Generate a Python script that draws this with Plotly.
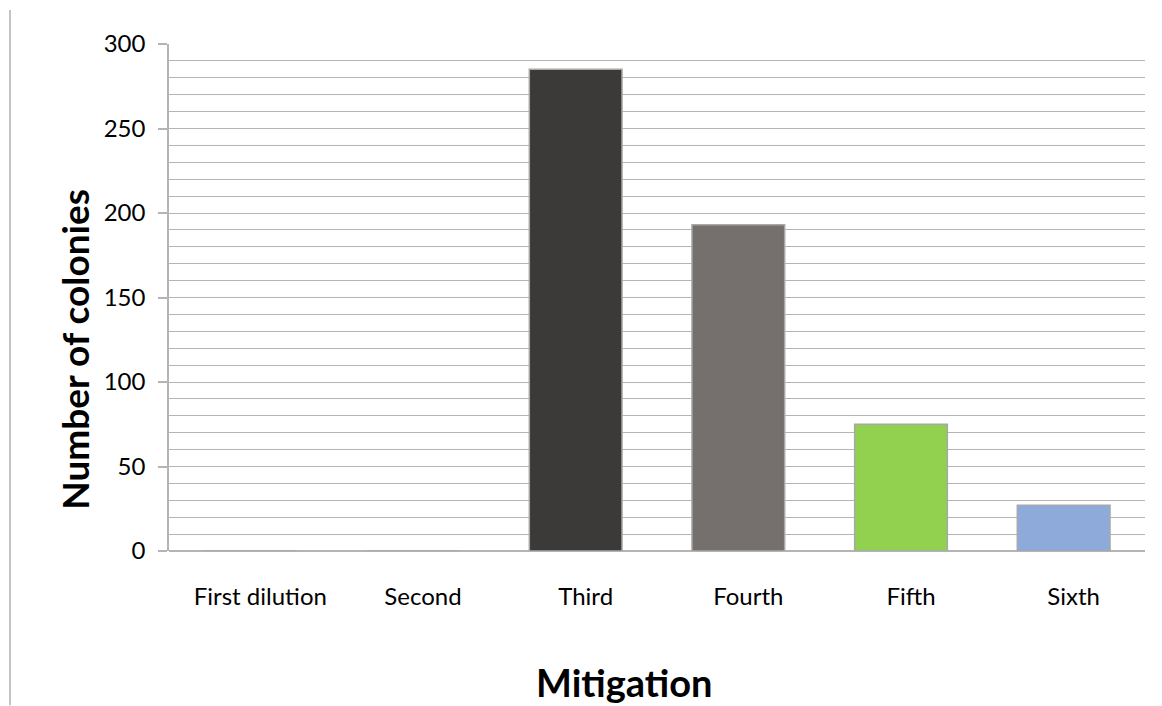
import plotly.graph_objects as go

categories = ["First dilution", "Second", "Third", "Fourth", "Fifth", "Sixth"]
colonies = [0, 0, 285, 193, 75, 27]
bar_colors = ["#3b3a38", "#3b3a38", "#3b3a38", "#75706e", "#92d050", "#8eaadb"]
y_ticks = [0, 50, 100, 150, 200, 250, 300]

GRID = "#b4b4b4"
FONT = "Lato"

fig = go.Figure(go.Bar(
    x=categories, y=colonies,
    marker=dict(color=bar_colors, line=dict(color="#a8a8a8", width=1.5)),
    width=0.57,
))

fig.update_layout(
    width=1162, height=706,
    margin=dict(l=169, r=17, t=44, b=154.5),
    paper_bgcolor="white", plot_bgcolor="white",
    showlegend=False,
    font=dict(family=FONT, color="black"),
    xaxis=dict(
        showgrid=False, showline=False, zeroline=False,
        ticks="", tickfont=dict(size=24, family=FONT, color="black"),
        ticklabelstandoff=29, ticklabelshift=10,
    ),
    yaxis=dict(
        range=[0, 300], tickvals=y_ticks,
        showgrid=True, gridcolor=GRID, gridwidth=1.3,
        showline=True, linecolor=GRID, linewidth=1.5,
        zeroline=True, zerolinecolor=GRID, zerolinewidth=1.5,
        ticks="outside", ticklen=9, tickcolor=GRID, tickwidth=1.5,
        tickfont=dict(size=24, family=FONT, color="black"),
        ticklabelstandoff=8,
        minor=dict(dtick=10, showgrid=True, gridcolor=GRID, gridwidth=1.3, ticks=""),
    ),
    annotations=[
        dict(text="<b>Number of colonies</b>", xref="paper", yref="paper",
             x=-94 / 976, y=(551.5 - 350) / 507.5, textangle=-90, showarrow=False,
             xanchor="center", yanchor="middle", font=dict(size=37, family=FONT, color="black")),
        dict(text="<b>Mitigation</b>", xref="paper", yref="paper",
             x=(624 - 169) / 976, y=(551.5 - 683) / 507.5, showarrow=False,
             xanchor="center", yanchor="middle", font=dict(size=38, family=FONT, color="black")),
    ],
    shapes=[
        dict(type="line", xref="paper", yref="paper",
             x0=(10 - 169) / 976, x1=(10 - 169) / 976,
             y0=(551.5 - 10) / 507.5, y1=(551.5 - 706) / 507.5,
             line=dict(color="#b0b0b0", width=1.5)),
    ],
)

fig.write_html("out.html", config={"displayModeBar": False},
               post_script="document.body.style.margin='0';document.body.style.overflow='hidden';")
